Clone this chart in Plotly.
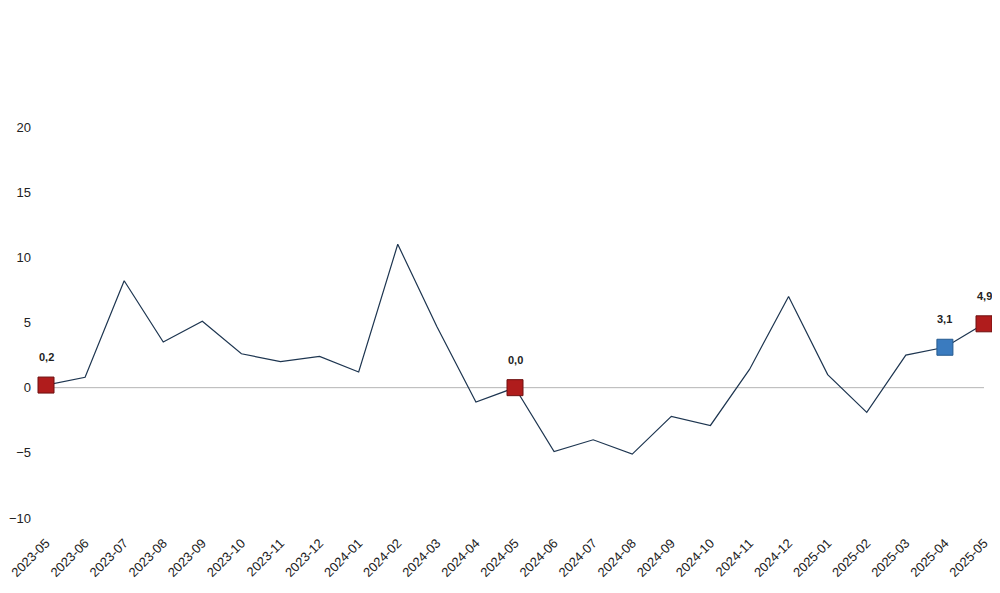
import plotly.graph_objects as go

months = ['2023-05', '2023-06', '2023-07', '2023-08', '2023-09', '2023-10', '2023-11',
          '2023-12', '2024-01', '2024-02', '2024-03', '2024-04', '2024-05', '2024-06',
          '2024-07', '2024-08', '2024-09', '2024-10', '2024-11', '2024-12', '2025-01',
          '2025-02', '2025-03', '2025-04', '2025-05']
values = [0.2, 0.8, 8.2, 3.5, 5.1, 2.6, 2.0, 2.4, 1.2, 11.0, 4.7, -1.1, 0.0, -4.9,
          -4.0, -5.1, -2.2, -2.9, 1.4, 7.0, 1.0, -1.9, 2.5, 3.1, 4.9]

red_points = ['2023-05', '2024-05', '2025-05']
blue_points = ['2025-04']

y_ticks = [-10, -5, 0, 5, 10, 15, 20]

fig = go.Figure()
fig.add_trace(go.Scatter(x=months, y=values, mode='lines',
                         line=dict(color='#1d3550', width=1.2), showlegend=False))

red_y = [values[months.index(m)] for m in red_points]
blue_y = [values[months.index(m)] for m in blue_points]
fig.add_trace(go.Scatter(x=red_points, y=red_y, mode='markers', showlegend=False,
                         marker=dict(symbol='square', size=16, color='#b01c1c',
                                     line=dict(color='#6e1010', width=1)),
                         cliponaxis=False))
fig.add_trace(go.Scatter(x=blue_points, y=blue_y, mode='markers', showlegend=False,
                         marker=dict(symbol='square', size=16, color='#3a7bbf',
                                     line=dict(color='#255a8f', width=1)),
                         cliponaxis=False))

# value labels above highlighted points (comma decimal)
for m in red_points + blue_points:
    v = values[months.index(m)]
    fig.add_annotation(x=m, y=v, text='<b>' + f'{v:.1f}'.replace('.', ',') + '</b>',
                       showarrow=False, yshift=28,
                       font=dict(size=11, color='#222', family='Liberation Sans'))

# zero line
fig.add_shape(type='line', xref='x', yref='y', x0=months[0], x1=months[-1], y0=0, y1=0,
              line=dict(color='#b5b5b5', width=1), layer='below')

fig.update_xaxes(type='category', range=[0, len(months) - 1], tickangle=-45,
                 showgrid=False, zeroline=False, showline=False, ticks='',
                 ticklabelstandoff=14,
                 tickfont=dict(size=13, color='#222', family='Liberation Sans'),
                 automargin=False)
fig.update_yaxes(range=[-10, 20], tickvals=y_ticks, showgrid=False, zeroline=False,
                 showline=False, ticks='', ticklabelstandoff=14,
                 tickfont=dict(size=13, color='#222', family='Liberation Sans'),
                 automargin=False)

fig.update_layout(width=1000, height=593, plot_bgcolor='white', paper_bgcolor='white',
                  margin=dict(l=38, r=24, t=119, b=83))

fig.write_html('out.html')
